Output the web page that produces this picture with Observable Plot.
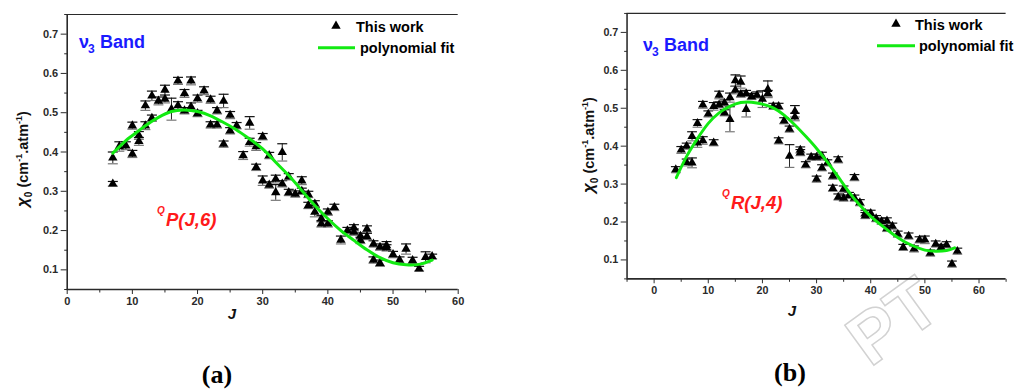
<!DOCTYPE html>
<html><head><meta charset="utf-8">
<script src="https://cdn.jsdelivr.net/npm/d3@7"></script>
<script src="https://cdn.jsdelivr.net/npm/@observablehq/plot@0.6"></script>
<style>
html,body{margin:0;padding:0;background:#fff;width:1018px;height:391px;overflow:hidden;position:relative;font-family:"Liberation Sans",Arial,sans-serif;}
.panel{position:absolute;top:0;}
#ov{position:absolute;left:0;top:0;pointer-events:none;}
#wm{position:absolute;left:0;top:0;pointer-events:none;}
</style></head><body>
<svg id="wm" width="1018" height="391"></svg>
<div id="pa" class="panel" style="left:0px"></div>
<div id="pb" class="panel" style="left:560px"></div>
<svg id="ov" width="1018" height="391"></svg>
<script>
// ---------- data: panel (a)  QP(J,6) ----------
const aJ = [7,7,8,9,10,10,11,11,12,12,13,13,14,15,15,16,17,17,18,18,19,19,20,20,21,22,22,23,23,24,24,25,25,26,27,28,28,29,29,30,30,31,31,32,32,33,33,34,34,35,36,36,37,37,38,38,39,39,40,40,41,42,43,44,44,45,45,46,46,47,47,48,48,49,49,50,51,52,53,54,55,56];
const aChi = [0.385,0.319,0.414,0.416,0.467,0.395,0.442,0.427,0.518,0.467,
  0.543,0.486,0.530,0.558,0.535,0.509,0.581,0.518,0.549,0.505,
  0.581,0.515,0.536,0.498,0.556,0.533,0.469,0.505,0.469,0.530,
  0.420,0.494,0.454,0.467,0.391,0.474,0.425,0.414,0.361,0.439,
  0.327,0.391,0.316,0.331,0.297,0.399,0.319,0.337,0.297,0.293,
  0.327,0.300,0.292,0.264,0.268,0.247,0.230,0.217,0.247,0.217,
  0.259,0.176,0.200,0.207,0.196,0.186,0.175,0.204,0.185,0.166,
  0.125,0.158,0.117,0.162,0.156,0.139,0.125,0.153,0.124,0.103,
  0.132,0.134];
const aErr = [0.015,0.006,0.012,0.010,0.009,0.009,0.010,0.010,0.012,0.010,
  0.012,0.008,0.010,0.012,0.010,0.028,0.009,0.010,0.010,0.008,
  0.010,0.010,0.009,0.008,0.010,0.009,0.008,0.008,0.008,0.017,
  0.008,0.009,0.008,0.008,0.010,0.016,0.010,0.010,0.008,0.008,
  0.012,0.008,0.008,0.010,0.020,0.022,0.008,0.008,0.008,0.008,
  0.010,0.008,0.008,0.008,0.008,0.012,0.008,0.008,0.008,0.008,
  0.008,0.010,0.008,0.008,0.008,0.008,0.008,0.008,0.008,0.008,
  0.008,0.008,0.008,0.010,0.008,0.008,0.008,0.013,0.008,0.006,
  0.014,0.006];
const aFitJ   = [7,9,10,12,14,16,18,20,22,24,26,28,30,32,34,36,38,40,42,44,46,48,50,52,54,56];
const aFitChi = [0.397,0.429,0.442,0.467,0.488,0.503,0.507,0.503,0.492,0.475,0.456,0.433,0.408,0.374,0.340,0.302,0.264,0.230,0.200,0.175,0.151,0.131,0.118,0.113,0.114,0.125];

// ---------- data: panel (b)  QR(J,4) ----------
const bJ = [4,5,6,6,7,7,8,8,9,9,10,11,11,12,12,13,13,14,14,15,15,16,16,17,17,18,19,20,21,21,22,23,23,24,25,25,26,26,27,27,28,29,30,30,31,31,32,33,33,34,34,35,35,36,37,37,38,39,39,40,41,42,43,43,44,45,46,47,48,49,50,51,52,53,54,55,56];
const bChi = [0.338,0.390,0.400,0.357,0.356,0.426,0.460,0.409,0.509,0.415,
  0.485,0.505,0.409,0.535,0.509,0.514,0.488,0.528,0.471,0.573,
  0.548,0.569,0.537,0.539,0.497,0.531,0.535,0.524,0.550,0.539,
  0.505,0.505,0.414,0.467,0.445,0.374,0.492,0.477,0.390,0.383,
  0.351,0.371,0.371,0.313,0.374,0.343,0.356,0.321,0.289,0.364,
  0.266,0.287,0.263,0.270,0.317,0.263,0.251,0.223,0.217,0.223,
  0.209,0.202,0.203,0.183,0.189,0.168,0.133,0.163,0.129,0.153,
  0.153,0.118,0.142,0.133,0.140,0.089,0.123];
const bErr = [0.008,0.009,0.008,0.009,0.013,0.012,0.010,0.012,0.009,0.010,
  0.008,0.010,0.008,0.010,0.008,0.008,0.008,0.012,0.033,0.015,
  0.010,0.016,0.008,0.008,0.020,0.008,0.008,0.022,0.022,0.008,
  0.008,0.008,0.008,0.008,0.008,0.030,0.015,0.010,0.008,0.008,
  0.008,0.008,0.008,0.008,0.010,0.008,0.008,0.008,0.008,0.008,
  0.008,0.008,0.008,0.008,0.008,0.008,0.008,0.008,0.008,0.008,
  0.008,0.008,0.008,0.008,0.008,0.008,0.008,0.008,0.008,0.008,
  0.010,0.008,0.008,0.008,0.008,0.008,0.008];
const bFitJ   = [4.1,6,8,10,12,14,16,18,20,22,24,26,28,30,32,34,36,38,40,42,44,46,48,50,52,54,55.5];
const bFitChi = [0.317,0.373,0.420,0.460,0.488,0.505,0.515,0.516,0.511,0.501,0.482,0.456,0.426,0.394,0.358,0.319,0.279,0.244,0.215,0.191,0.169,0.150,0.136,0.126,0.123,0.125,0.132];

// ---------- ticks ----------
const xTicks = [0,10,20,30,40,50,60];
const xMinorA = [5,15,25,35,45,55];
const xMinorB = [-5,5,15,25,35,45,55,65];
const yTicks = [0.1,0.2,0.3,0.4,0.5,0.6,0.7];
const yMinor = [0.05,0.15,0.25,0.35,0.45,0.55,0.65,0.75];

const GREEN = "#12ea12";
const AX = "#2a2a2a";

function panel(J, chi, err, fitJ, fitChi, o) {
  const pts = J.map((j,i)=>({J:j, chi:chi[i], err:err[i]}));
  const fit = fitJ.map((j,i)=>({J:j, chi:fitChi[i]}));
  const cap = {draw(ctx){ctx.moveTo(-5,0);ctx.lineTo(5,0);}};
  const vtick = {draw(ctx){ctx.moveTo(0,0);ctx.lineTo(0,3);}};
  const htick = {draw(ctx){ctx.moveTo(0,0);ctx.lineTo(-3,0);}};
  const [x0,x1] = o.xDomain;
  return Plot.plot({
    width: 470, height: 330,
    marginLeft: o.ml, marginRight: 470 - o.ml - o.pw, marginTop: o.mt, marginBottom: 330 - o.mt - o.ph,
    x: {domain: o.xDomain, ticks: xTicks, tickSize: 5, tickPadding: 3, label: null},
    y: {domain: [0.05, 0.75], ticks: yTicks, tickSize: 6, tickPadding: 3, tickFormat: d3.format(".1f"), label: null},
    style: {fontFamily: "'Liberation Sans', Arial, sans-serif", fontSize: "11px", fontWeight: "bold", color: AX, background: "transparent", overflow: "visible"},
    marks: [
      Plot.ruleX([x0], {stroke: AX, strokeWidth: 1.6}),
      Plot.ruleY([0.05], {stroke: AX, strokeWidth: 1.6}),
      Plot.ruleY([0.75], {stroke: AX, strokeWidth: 1.2}),
      Plot.dot(o.xMinor, {x: d=>d, y: ()=>0.05, symbol: vtick, fill: "none", stroke: AX, strokeWidth: 1}),
      Plot.dot(yMinor, {x: ()=>x0, y: d=>d, symbol: htick, fill: "none", stroke: AX, strokeWidth: 1}),
      Plot.ruleX(pts, {x: "J", y1: d=>d.chi-d.err, y2: d=>d.chi+d.err, stroke: "#222", strokeWidth: 1}),
      Plot.dot(pts, {x: "J", y: d=>d.chi+d.err, symbol: cap, fill: "none", stroke: "#111", strokeWidth: 1.2}),
      Plot.dot(pts, {x: "J", y: d=>d.chi-d.err, symbol: cap, fill: "none", stroke: "#777", strokeWidth: 1.2}),
      Plot.dot(pts, {x: "J", y: "chi", symbol: "triangle", r: 3.5, fill: "#000", stroke: "none"}),
      Plot.line(fit, {x: "J", y: "chi", curve: "natural", stroke: GREEN, strokeWidth: 3})
    ]
  });
}

document.getElementById("pa").append(panel(aJ, aChi, aErr, aFitJ, aFitChi,
  {xDomain: [0, 60], xMinor: xMinorA, ml: 66.7, pw: 391, mt: 14, ph: 275}));
document.getElementById("pb").append(panel(bJ, bChi, bErr, bFitJ, bFitChi,
  {xDomain: [-5, 65], xMinor: xMinorB, ml: 68.3, pw: 389, mt: 13.3, ph: 272.4}));

// ---------- faint page watermark (bottom right) ----------
d3.select("#wm").append("text")
  .attr("transform", "translate(870,368) rotate(-36)")
  .attr("font-family", "'Liberation Sans', Arial, sans-serif").attr("font-size", 72).attr("font-weight", "bold")
  .attr("fill", "none").attr("stroke", "#d2d2d2").attr("stroke-width", 1.5)
  .text("PT");

// ---------- annotations / legends ----------
const ov = d3.select("#ov");
const F = "'Liberation Sans', Arial, sans-serif";
function txt(x, y, s, size, fill, extra = {}) {
  const t = ov.append("text").attr("x", x).attr("y", y).text(s)
    .attr("font-family", F).attr("font-size", size).attr("font-weight", "bold").attr("fill", fill);
  for (const k in extra) t.attr(k, extra[k]);
  return t;
}
const tri = d3.symbol(d3.symbolTriangle, Math.PI * 3.5 * 3.5)();
function legend(tx, ty, lx1, lx2, ly, tx1, tx2) {
  ov.append("path").attr("d", tri).attr("transform", `translate(${tx},${ty})`).attr("fill", "#000");
  txt(tx1, ty + 5.5, "This work", 14.5, "#000");
  ov.append("line").attr("x1", lx1).attr("x2", lx2).attr("y1", ly).attr("y2", ly).attr("stroke", GREEN).attr("stroke-width", 3);
  txt(tx2, ly + 5, "polynomial fit", 14.5, "#000");
}
legend(336, 26, 318, 355, 47.7, 356, 360);
legend(896, 24, 877, 915, 45.7, 915, 919);

function band(x, y) {
  txt(x, y, "ν", 18, "#1a1aff");
  txt(x + 9, y + 5, "3", 12, "#1a1aff");
  txt(x + 21, y, "Band", 18, "#1a1aff");
}
band(79, 48.3);
band(643, 50.7);

function branch(x, y, s) {
  txt(x, y - 12, "Q", 10, "#ff1a1a", {"font-style": "italic"});
  txt(x + 9, y, s, 18.5, "#ff1a1a", {"font-style": "italic"});
}
branch(157, 225.5, "P(J,6)");
branch(722, 209, "R(J,4)");

txt(232, 319, "J", 15, "#111", {"font-style": "italic", "text-anchor": "middle"});
txt(792, 316, "J", 15, "#111", {"font-style": "italic", "text-anchor": "middle"});

function ylabel(x, y) {
  const t = ov.append("text").attr("transform", `translate(${x},${y}) rotate(-90)`)
    .attr("text-anchor", "middle").attr("font-family", F).attr("font-size", 14.5).attr("font-weight", "bold").attr("fill", "#111");
  t.append("tspan").attr("font-style", "italic").attr("font-size", 17).text("χ");
  t.append("tspan").attr("font-size", 10).attr("dy", 4).text("0");
  t.append("tspan").attr("dy", -4).text(" (cm");
  t.append("tspan").attr("font-size", 9).attr("dy", -6).text("-1");
  t.append("tspan").attr("dy", 6).text(".atm");
  t.append("tspan").attr("font-size", 9).attr("dy", -6).text("-1");
  t.append("tspan").attr("dy", 6).text(")");
}
ylabel(28, 159);
ylabel(594, 145);

txt(217, 383, "(a)", 26, "#000", {"font-family": "'Liberation Serif', 'Times New Roman', serif", "text-anchor": "middle"});
txt(790, 381, "(b)", 26, "#000", {"font-family": "'Liberation Serif', 'Times New Roman', serif", "text-anchor": "middle"});
</script>
</body></html>
